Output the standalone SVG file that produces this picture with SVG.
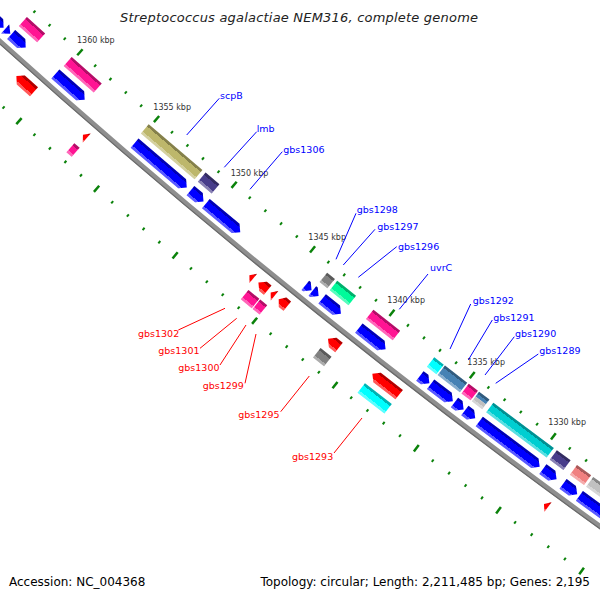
<svg xmlns="http://www.w3.org/2000/svg" xmlns:xlink="http://www.w3.org/1999/xlink" width="600" height="600" viewBox="0 0 600 600">
<style>
.b{fill:#0000ff}.r{fill:#ff0000}.pk{fill:#ff1493}.ol{fill:#bdb76b}.pu{fill:#483d8b}.gy{fill:#808080}.sv{fill:#c0c0c0}
.gn{fill:#00fa9a}.cy{fill:#00ffff}.sb{fill:#4682b4}.dt{fill:#00ced1}.sa{fill:#f08080}
.s{fill:url(#sh)}
.tk{fill:#0a820a}
.kl{font-family:"DejaVu Sans",sans-serif;font-size:8px;fill:#333}
.lb{font-family:"DejaVu Sans",sans-serif;font-size:9.5px;fill:#0000ff}
.lr{font-family:"DejaVu Sans",sans-serif;font-size:9.5px;fill:#ff0000}
.cb{stroke:#0000ff;stroke-width:1;fill:none}
.cr{stroke:#ff0000;stroke-width:1;fill:none}
.ft{font-family:"DejaVu Sans",sans-serif;font-size:12px;fill:#000}
</style>
<defs>
<linearGradient id="sh" x1="0" y1="0" x2="0" y2="1">
<stop offset="0" stop-color="#000" stop-opacity="0.3"/>
<stop offset="0.22" stop-color="#000" stop-opacity="0.3"/>
<stop offset="0.22" stop-color="#000" stop-opacity="0"/>
<stop offset="0.78" stop-color="#fff" stop-opacity="0"/>
<stop offset="0.78" stop-color="#fff" stop-opacity="0.35"/>
<stop offset="1" stop-color="#fff" stop-opacity="0.35"/>
</linearGradient>
<g id="tm"><rect x="-1" y="7153.5" width="2" height="3"/><rect x="-1" y="7245.5" width="2" height="3"/></g>
<g id="tM"><rect x="-1.25" y="7151" width="2.5" height="8"/><rect x="-1.25" y="7243" width="2.5" height="8"/></g>
</defs>
<rect width="600" height="600" fill="#fff"/>
<text x="299" y="22" text-anchor="middle" font-family="DejaVu Sans,sans-serif" font-style="italic" font-size="13" fill="#222" textLength="358">Streptococcus agalactiae NEM316, complete genome</text>

<g transform="translate(4820.2 -5307.2)">
<g id="backbone" fill="none">
<circle r="7200" stroke="#8e8e8e" stroke-width="5"/>
<circle r="7202" stroke="#6a6a6a" stroke-width="1.2"/>
</g>
<g id="ticks" class="tk">
<use href="#tm" transform="rotate(42.1429)"/><use href="#tm" transform="rotate(41.9801)"/><use href="#tm" transform="rotate(41.8173)"/><use href="#tm" transform="rotate(41.6545)"/>
<use href="#tM" transform="rotate(41.4918)"/><use href="#tm" transform="rotate(41.3290)"/><use href="#tm" transform="rotate(41.1662)"/><use href="#tm" transform="rotate(41.0034)"/><use href="#tm" transform="rotate(40.8406)"/>
<use href="#tM" transform="rotate(40.6779)"/><use href="#tm" transform="rotate(40.5151)"/><use href="#tm" transform="rotate(40.3523)"/><use href="#tm" transform="rotate(40.1895)"/><use href="#tm" transform="rotate(40.0267)"/>
<use href="#tM" transform="rotate(39.8639)"/><use href="#tm" transform="rotate(39.7011)"/><use href="#tm" transform="rotate(39.5384)"/><use href="#tm" transform="rotate(39.3756)"/><use href="#tm" transform="rotate(39.2128)"/>
<use href="#tM" transform="rotate(39.0500)"/><use href="#tm" transform="rotate(38.8872)"/><use href="#tm" transform="rotate(38.7244)"/><use href="#tm" transform="rotate(38.5616)"/><use href="#tm" transform="rotate(38.3989)"/>
<use href="#tM" transform="rotate(38.2361)"/><use href="#tm" transform="rotate(38.0733)"/><use href="#tm" transform="rotate(37.9105)"/><use href="#tm" transform="rotate(37.7477)"/><use href="#tm" transform="rotate(37.5849)"/>
<use href="#tM" transform="rotate(37.4221)"/><use href="#tm" transform="rotate(37.2594)"/><use href="#tm" transform="rotate(37.0966)"/><use href="#tm" transform="rotate(36.9338)"/><use href="#tm" transform="rotate(36.7710)"/>
<use href="#tM" transform="rotate(36.6082)"/><use href="#tm" transform="rotate(36.4454)"/><use href="#tm" transform="rotate(36.2826)"/><use href="#tm" transform="rotate(36.1199)"/><use href="#tm" transform="rotate(35.9571)"/>
<use href="#tM" transform="rotate(35.7943)"/>
</g>

<g id="f1" transform="rotate(42.205)"><path class="b" d="M-16 7181.5H10L16 7187.5L10 7193.5H-16Z"/><path class="s" d="M-16 7181.5H10L16 7187.5L10 7193.5H-16Z"/></g>
<g id="f2" transform="rotate(42.033)"><path class="b" d="M-3.5 7181.5L3.5 7187.5L-3.5 7193.5Z"/><path class="s" d="M-3.5 7181.5L3.5 7187.5L-3.5 7193.5Z"/></g>
<g id="f3" transform="rotate(41.918)"><path class="b" d="M-9.75 7181.5H3.75L9.75 7187.5L3.75 7193.5H-9.75Z"/><path class="s" d="M-9.75 7181.5H3.75L9.75 7187.5L3.75 7193.5H-9.75Z"/></g>
<g id="f4" transform="rotate(41.898)"><rect class="pk" x="-12.25" y="7164" width="24.5" height="12"/><rect class="s" x="-12.25" y="7164" width="24.5" height="12"/></g>
<g id="f5" transform="rotate(41.356)"><rect class="pk" x="-20" y="7164" width="40" height="12"/><rect class="s" x="-20" y="7164" width="40" height="12"/></g>
<g id="f6" transform="rotate(41.368)"><path class="b" d="M-19.5 7181.5H13.5L19.5 7187.5L13.5 7193.5H-19.5Z"/><path class="s" d="M-19.5 7181.5H13.5L19.5 7187.5L13.5 7193.5H-19.5Z"/></g>
<g id="f7" transform="rotate(41.651)"><path class="r" d="M11.8 7209H-5.8L-11.8 7215L-5.8 7221H11.8Z"/><path class="s" d="M11.8 7209H-5.8L-11.8 7215L-5.8 7221H11.8Z"/></g>
<g id="f8" transform="rotate(41.02)"><rect class="pk" x="-3.5" y="7227" width="7" height="12"/><rect class="s" x="-3.5" y="7227" width="7" height="12"/></g>
<g id="f9" transform="rotate(41.02)"><path class="r" d="M2.5 7209L-2.5 7215L2.5 7221Z"/><path class="s" d="M2.5 7209L-2.5 7215L2.5 7221Z"/></g>

<g id="scpB-cog" transform="rotate(40.416)"><rect class="ol" x="-35.25" y="7164" width="70.5" height="12"/><rect class="s" x="-35.25" y="7164" width="70.5" height="12"/></g>
<g id="scpB" transform="rotate(40.412)"><path class="b" d="M-34.25 7181.5H28.25L34.25 7187.5L28.25 7193.5H-34.25Z"/><path class="s" d="M-34.25 7181.5H28.25L34.25 7187.5L28.25 7193.5H-34.25Z"/></g>
<g id="lmb-cog" transform="rotate(40.029)"><rect class="pu" x="-9" y="7164" width="18" height="12"/><rect class="s" x="-9" y="7164" width="18" height="12"/></g>
<g id="lmb" transform="rotate(40.033)"><path class="b" d="M-8.5 7181.5H2.5L8.5 7187.5L2.5 7193.5H-8.5Z"/><path class="s" d="M-8.5 7181.5H2.5L8.5 7187.5L2.5 7193.5H-8.5Z"/></g>
<g id="gbs1306" transform="rotate(39.762)"><path class="b" d="M-22.35 7181.5H16.35L22.35 7187.5L16.35 7193.5H-22.35Z"/><path class="s" d="M-22.35 7181.5H16.35L22.35 7187.5L16.35 7193.5H-22.35Z"/></g>

<g id="gbs1302" transform="rotate(39.29)"><path class="r" d="M2.5 7209L-2.5 7215L2.5 7221Z"/><path class="s" d="M2.5 7209L-2.5 7215L2.5 7221Z"/></g>
<g id="gbs1301" transform="rotate(39.17)"><path class="r" d="M6 7209H0L-6 7215L0 7221H6Z"/><path class="s" d="M6 7209H0L-6 7215L0 7221H6Z"/></g>
<g id="gbs1301-cog" transform="rotate(39.186)"><rect class="pk" x="-7" y="7227" width="14" height="12"/><rect class="s" x="-7" y="7227" width="14" height="12"/></g>
<g id="gbs1300" transform="rotate(39.072)"><path class="r" d="M2.5 7209L-2.5 7215L2.5 7221Z"/><path class="s" d="M2.5 7209L-2.5 7215L2.5 7221Z"/></g>
<g id="gbs1300-cog" transform="rotate(39.086)"><rect class="pk" x="-4.5" y="7227" width="9" height="12"/><rect class="s" x="-4.5" y="7227" width="9" height="12"/></g>
<g id="gbs1299" transform="rotate(38.966)"><path class="r" d="M5.5 7209H-0.5L-5.5 7215L-0.5 7221H5.5Z"/><path class="s" d="M5.5 7209H-0.5L-5.5 7215L-0.5 7221H5.5Z"/></g>
<g id="gbs1298" transform="rotate(38.882)"><path class="b" d="M-4 7181.5H-2L4 7187.5L-2 7193.5H-4Z"/><path class="s" d="M-4 7181.5H-2L4 7187.5L-2 7193.5H-4Z"/></g>
<g id="gbs1297" transform="rotate(38.81)"><path class="b" d="M-4 7181.5H-2L4 7187.5L-2 7193.5H-4Z"/><path class="s" d="M-4 7181.5H-2L4 7187.5L-2 7193.5H-4Z"/></g>
<g id="gbs1297-cog" transform="rotate(38.802)"><rect class="gy" x="-5" y="7164" width="10" height="12"/><rect class="s" x="-5" y="7164" width="10" height="12"/></g>
<g id="gbs1296" transform="rotate(38.646)"><path class="b" d="M-12 7181.5H6L12 7187.5L6 7193.5H-12Z"/><path class="s" d="M-12 7181.5H6L12 7187.5L6 7193.5H-12Z"/></g>
<g id="gbs1296-cog" transform="rotate(38.642)"><rect class="gn" x="-12" y="7164" width="24" height="12"/><rect class="s" x="-12" y="7164" width="24" height="12"/></g>

<g id="uvrC-cog" transform="rotate(38.232)"><rect class="pk" x="-17" y="7164" width="34" height="12"/><rect class="s" x="-17" y="7164" width="34" height="12"/></g>
<g id="uvrC" transform="rotate(38.232)"><path class="b" d="M-17 7181.5H11L17 7187.5L11 7193.5H-17Z"/><path class="s" d="M-17 7181.5H11L17 7187.5L11 7193.5H-17Z"/></g>
<g id="gbs1293" transform="rotate(37.924)"><path class="r" d="M17 7209H-11L-17 7215L-11 7221H17Z"/><path class="s" d="M17 7209H-11L-17 7215L-11 7221H17Z"/></g>
<g id="gbs1293-cog" transform="rotate(37.924)"><rect class="cy" x="-17" y="7227" width="34" height="12"/><rect class="s" x="-17" y="7227" width="34" height="12"/></g>
<g id="gbs1295-cog" transform="rotate(38.452)"><rect class="gy" x="-7" y="7227" width="14" height="12"/><rect class="s" x="-7" y="7227" width="14" height="12"/></g>
<g id="gbs1295" transform="rotate(38.452)"><path class="r" d="M7 7209H-1L-7 7215L-1 7221H7Z"/><path class="s" d="M7 7209H-1L-7 7215L-1 7221H7Z"/></g>

<g id="gbs1292-cog" transform="rotate(37.702)"><rect class="cy" x="-6" y="7164" width="12" height="12"/><rect class="s" x="-6" y="7164" width="12" height="12"/></g>
<g id="gbs1292" transform="rotate(37.702)"><path class="b" d="M-6 7181.5H0L6 7187.5L0 7193.5H-6Z"/><path class="s" d="M-6 7181.5H0L6 7187.5L0 7193.5H-6Z"/></g>
<g id="gbs1291-cog" transform="rotate(37.53)"><rect class="sb" x="-14" y="7164" width="28" height="12"/><rect class="s" x="-14" y="7164" width="28" height="12"/></g>
<g id="gbs1291" transform="rotate(37.53)"><path class="b" d="M-14 7181.5H8L14 7187.5L8 7193.5H-14Z"/><path class="s" d="M-14 7181.5H8L14 7187.5L8 7193.5H-14Z"/></g>
<g id="gbs1290-cog" transform="rotate(37.356)"><rect class="pk" x="-5.75" y="7164" width="11.5" height="12"/><rect class="s" x="-5.75" y="7164" width="11.5" height="12"/></g>
<g id="gbs1290" transform="rotate(37.356)"><path class="b" d="M-5.75 7181.5H-0.25L5.75 7187.5L-0.25 7193.5H-5.75Z"/><path class="s" d="M-5.75 7181.5H-0.25L5.75 7187.5L-0.25 7193.5H-5.75Z"/></g>
<g id="gbs1289-cog" transform="rotate(37.246)"><rect class="sb" x="-6.5" y="7164" width="13" height="6"/><rect class="sv" x="-6.5" y="7170" width="13" height="6"/><rect class="s" x="-6.5" y="7164" width="13" height="12"/></g>
<g id="gbs1289" transform="rotate(37.246)"><path class="b" d="M-6.5 7181.5H0.5L6.5 7187.5L0.5 7193.5H-6.5Z"/><path class="s" d="M-6.5 7181.5H0.5L6.5 7187.5L0.5 7193.5H-6.5Z"/></g>
<g id="f39" transform="rotate(36.852)"><rect class="dt" x="-37.75" y="7164" width="75.5" height="12"/><rect class="s" x="-37.75" y="7164" width="75.5" height="12"/></g>
<g id="f40" transform="rotate(36.852)"><path class="b" d="M-37.75 7181.5H31.75L37.75 7187.5L31.75 7193.5H-37.75Z"/><path class="s" d="M-37.75 7181.5H31.75L37.75 7187.5L31.75 7193.5H-37.75Z"/></g>

<g id="f41" transform="rotate(36.452)"><rect class="pu" x="-8.5" y="7164" width="17" height="12"/><rect class="s" x="-8.5" y="7164" width="17" height="12"/></g>
<g id="f42" transform="rotate(36.452)"><path class="b" d="M-8.5 7181.5H2.5L8.5 7187.5L2.5 7193.5H-8.5Z"/><path class="s" d="M-8.5 7181.5H2.5L8.5 7187.5L2.5 7193.5H-8.5Z"/></g>
<g id="f43" transform="rotate(36.25)"><rect class="sa" x="-8.75" y="7164" width="17.5" height="12"/><rect class="s" x="-8.75" y="7164" width="17.5" height="12"/></g>
<g id="f44" transform="rotate(36.25)"><path class="b" d="M-8.75 7181.5H2.75L8.75 7187.5L2.75 7193.5H-8.75Z"/><path class="s" d="M-8.75 7181.5H2.75L8.75 7187.5L2.75 7193.5H-8.75Z"/></g>
<g id="f45" transform="rotate(35.983)"><rect class="sv" x="-22" y="7164" width="44" height="12"/><rect class="s" x="-22" y="7164" width="44" height="12"/></g>
<g id="f46" transform="rotate(35.983)"><path class="b" d="M-22 7181.5H16L22 7187.5L16 7193.5H-22Z"/><path class="s" d="M-22 7181.5H16L22 7187.5L16 7193.5H-22Z"/></g>
<g id="f47" transform="rotate(36.328)"><path class="r" d="M2.5 7209L-2.5 7215L2.5 7221Z"/><path class="s" d="M2.5 7209L-2.5 7215L2.5 7221Z"/></g>
</g>

<g id="tick-labels" class="kl">
<text x="77" y="43">1360 kbp</text>
<text x="153.3" y="110">1355 kbp</text>
<text x="230.7" y="175.7">1350 kbp</text>
<text x="308.3" y="240">1345 kbp</text>
<text x="387.3" y="303.3">1340 kbp</text>
<text x="467.3" y="365">1335 kbp</text>
<text x="548.3" y="425">1330 kbp</text>
</g>

<g id="connectors">
<path class="cb" d="M219.3 98.3L186.7 135"/>
<path class="cb" d="M256.7 131.7L224.3 167.3"/>
<path class="cb" d="M282.3 151.7L250 189.3"/>
<path class="cb" d="M356 213.3L336 259.3"/>
<path class="cb" d="M375 229.3L343.3 265"/>
<path class="cb" d="M396.7 246.7L358.3 277.3"/>
<path class="cb" d="M428 274L399.3 309.3"/>
<path class="cb" d="M470.7 304L450 349"/>
<path class="cb" d="M492.3 320L468.3 360"/>
<path class="cb" d="M514.3 336.7L485 375"/>
<path class="cb" d="M538.3 354L495.7 383.3"/>
<path class="cr" d="M178.3 330L225 308.3"/>
<path class="cr" d="M200 348.3L236.7 318.3"/>
<path class="cr" d="M220 365L246 325"/>
<path class="cr" d="M245 383.3L256 334"/>
<path class="cr" d="M280.7 411.7L309.3 376"/>
<path class="cr" d="M334 453L362 418"/>
</g>

<g id="gene-labels">
<text class="lb" x="220" y="99">scpB</text>
<text class="lb" x="256.7" y="131.5">lmb</text>
<text class="lb" x="283.3" y="153">gbs1306</text>
<text class="lb" x="356.7" y="213">gbs1298</text>
<text class="lb" x="377.3" y="229.5">gbs1297</text>
<text class="lb" x="398" y="250">gbs1296</text>
<text class="lb" x="430" y="271">uvrC</text>
<text class="lb" x="472.7" y="304">gbs1292</text>
<text class="lb" x="493.3" y="320.5">gbs1291</text>
<text class="lb" x="515" y="337">gbs1290</text>
<text class="lb" x="539.3" y="354">gbs1289</text>
<text class="lr" x="138" y="337">gbs1302</text>
<text class="lr" x="158.3" y="354">gbs1301</text>
<text class="lr" x="178.3" y="370.5">gbs1300</text>
<text class="lr" x="202.7" y="389">gbs1299</text>
<text class="lr" x="238.3" y="418">gbs1295</text>
<text class="lr" x="292" y="460">gbs1293</text>
</g>

<text class="ft" x="9" y="586">Accession: NC_004368</text>
<text class="ft" x="590" y="586" text-anchor="end">Topology: circular; Length: 2,211,485 bp; Genes: 2,195</text>
</svg>
